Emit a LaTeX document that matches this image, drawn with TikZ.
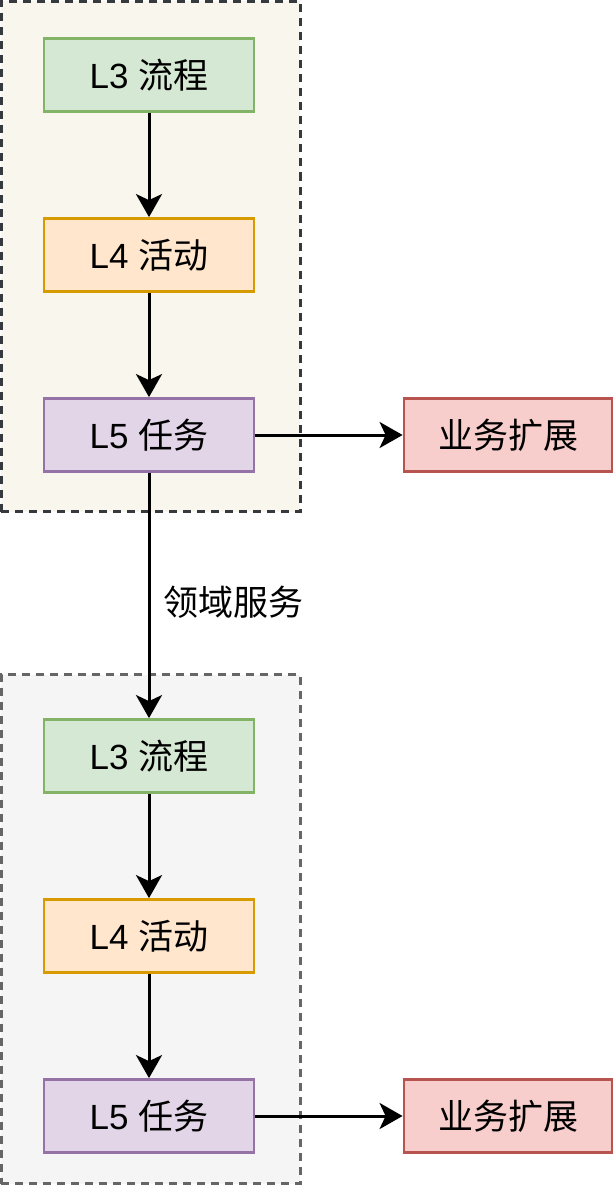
\documentclass[tikz,border=0pt]{standalone}
\usepackage{fontspec}
\setmainfont{Liberation Sans}
\newfontfamily\cjk{Noto Sans CJK SC}
\usetikzlibrary{arrows.meta,positioning}
\definecolor{gfill}{HTML}{D5E8D4}\definecolor{gline}{HTML}{82B366}
\definecolor{ofill}{HTML}{FFE6CC}\definecolor{oline}{HTML}{D79B00}
\definecolor{pfill}{HTML}{E1D5E7}\definecolor{pline}{HTML}{9673A6}
\definecolor{rfill}{HTML}{F8CECC}\definecolor{rline}{HTML}{B85450}
\definecolor{c1fill}{HTML}{F9F7ED}\definecolor{c1line}{HTML}{36393D}
\definecolor{c2fill}{HTML}{F5F5F5}\definecolor{c2line}{HTML}{666666}
\tikzset{
  box/.style={draw, line width=2.8pt, minimum width=210pt, minimum height=73pt, inner sep=0pt, font=\fontsize{35}{40}\selectfont},
  lthree/.style={box, fill=gfill, draw=gline},
  lfour/.style={box, fill=ofill, draw=oline},
  lfive/.style={box, fill=pfill, draw=pline},
  ext/.style={box, fill=rfill, draw=rline, minimum width=208pt},
  cont/.style={line width=3pt, dash pattern=on 8pt off 6pt, inner sep=0pt},
  conn/.style={line width=3pt, -{Stealth[length=23pt,width=26pt,inset=6pt]}},
  lbl/.style={font=\fontsize{35}{40}\selectfont, inner sep=0pt}
}
\begin{document}
\begin{tikzpicture}[x=1pt,y=-1pt]
\useasboundingbox (0,0) rectangle (615,1185);
\node[cont, fill=c1fill, draw=c1line, minimum width=299pt, minimum height=510pt] (c1) at (150.5,256.5) {};
\node[cont, fill=c2fill, draw=c2line, minimum width=299pt, minimum height=509pt] (c2) at (150.5,929) {};
\node[lthree] (a3) at (149,75) {L3 {\cjk 流程}};
\node[lfour] (a4) at (149,255) {L4 {\cjk 活动}};
\node[lfive] (a5) at (149,435) {L5 {\cjk 任务}};
\node[ext] (ae) at (508,435) {\cjk 业务扩展};
\node[lthree] (b3) at (149,756) {L3 {\cjk 流程}};
\node[lfour] (b4) at (149,936) {L4 {\cjk 活动}};
\node[lfive] (b5) at (149,1116) {L5 {\cjk 任务}};
\node[ext] (be) at (508,1116) {\cjk 业务扩展};
\draw[conn] (a3) -- (a4);
\draw[conn] (a4) -- (a5);
\draw[conn] (a5) -- (ae);
\draw[conn] (a5) -- (b3);
\draw[conn] (b3) -- (b4);
\draw[conn] (b4) -- (b5);
\draw[conn] (b5) -- (be);
\node[lbl] (lab) at (233,602) {\cjk 领域服务};
\end{tikzpicture}
\end{document}
